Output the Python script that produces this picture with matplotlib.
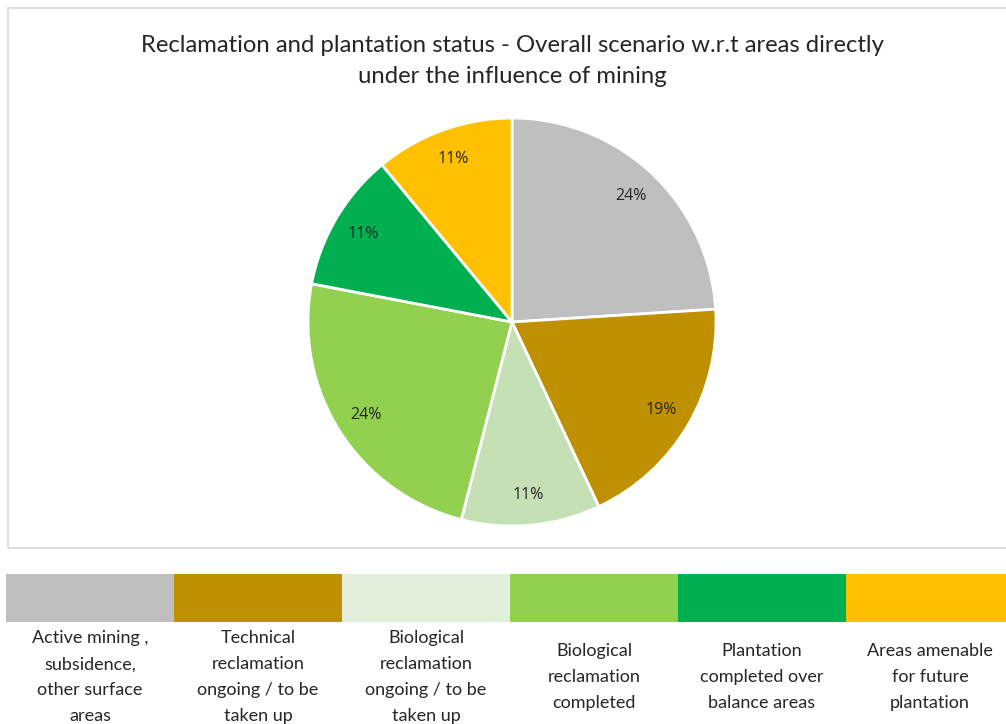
import matplotlib
matplotlib.use("Agg")
import matplotlib.pyplot as plt
from matplotlib.patches import Rectangle

categories = [
    "Active mining ,\nsubsidence,\nother surface\nareas",
    "Technical\nreclamation\nongoing / to be\ntaken up",
    "Biological\nreclamation\nongoing / to be\ntaken up",
    "Biological\nreclamation\ncompleted",
    "Plantation\ncompleted over\nbalance areas",
    "Areas amenable\nfor future\nplantation",
]
shares = [24, 19, 11, 24, 11, 11]
title = ("Reclamation and plantation status - Overall scenario w.r.t areas directly\n"
         "under the influence of mining")

pie_colors = ["#BFBFBF", "#BF9000", "#C5E0B4", "#92D050", "#00B050", "#FFC000"]
key_colors = ["#BFBFBF", "#BF9000", "#E2EFDA", "#92D050", "#00B050", "#FFC000"]

W, H = 1006, 724
fig = plt.figure(figsize=(W / 100, H / 100), dpi=100)
fig.patch.set_facecolor("white")

def fx(px):
    return px / W

def fy(py):
    return 1 - py / H

# chart frame
fig.add_artist(Rectangle((fx(8), fy(548)), fx(1006) - fx(8) + 0.01, fy(8) - fy(548),
                         transform=fig.transFigure, fill=False,
                         edgecolor="#D9D9D9", linewidth=1.2, clip_on=False))

fig.text(fx(512), fy(61), title, ha="center", va="center", fontsize=17.2,
         family=["Lato", "DejaVu Sans"], color="#262626", linespacing=1.55)

# pie
cx, cy, r = 512, 322, 204
ax = fig.add_axes([fx(cx - r), fy(cy + r), 2 * r / W, 2 * r / H])
wedges, _, autotexts = ax.pie(
    shares, colors=pie_colors, startangle=90, counterclock=False,
    autopct=lambda p: f"{p:.0f}%", pctdistance=0.85, radius=1,
    wedgeprops=dict(edgecolor="white", linewidth=2),
    textprops=dict(fontsize=11.5, color="#262626", family=["Open Sans", "DejaVu Sans"]))
ax.set_xlim(-1.0, 1.0)
ax.set_ylim(-1.0, 1.0)
ax.set_aspect("equal")
ax.axis("off")

# colour key table
x0, colw = 6, 168
top, bot = 574, 622
for i, (lab, col) in enumerate(zip(categories, key_colors)):
    fig.add_artist(Rectangle((fx(x0 + i * colw), fy(bot)), colw / W, (bot - top) / H,
                             transform=fig.transFigure, facecolor=col,
                             edgecolor="none", clip_on=False))
    fig.text(fx(x0 + i * colw + colw / 2), fy(677), lab, ha="center", va="center",
             fontsize=13, color="#262626", linespacing=1.75,
             family=["Lato", "DejaVu Sans"])

fig.savefig("out.png", dpi=100, facecolor="white")
